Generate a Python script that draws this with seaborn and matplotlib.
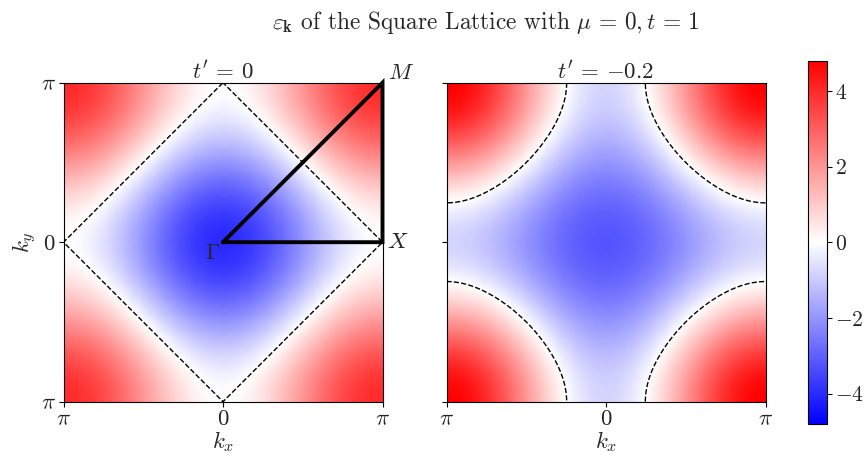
import numpy as np
import pandas as pd
import matplotlib
matplotlib.use("Agg")
import matplotlib.pyplot as plt
import seaborn as sns

sns.set_style("ticks")
plt.rcParams.update({
    "font.family": "serif",
    "font.serif": ["cmr10"],
    "mathtext.fontset": "cm",
    "axes.formatter.use_mathtext": True,
    "axes.unicode_minus": True,
    "xtick.direction": "out",
    "ytick.direction": "out",
})

# Tight-binding parameters
mu = 0.0
t = 1.0
t_primes = [0.0, -0.2]
panel_titles = [r"$t'\,=\,0$", r"$t'\,=\,{-}0.2$"]
tick_labels = [r"$\pi$", r"$0$", r"$\pi$"]
cbar_ticks = [-4, -2, 0, 2, 4]
color_limit = 4.8

# High-symmetry path Gamma -> X -> M -> Gamma
path_names = [r"$\Gamma$", r"$X$", r"$M$"]
path_kx = [0.0, np.pi, np.pi]
path_ky = [0.0, 0.0, np.pi]

n = 300
k = np.linspace(-np.pi, np.pi, n)
kx, ky = np.meshgrid(k, k[::-1])


def dispersion(tp):
    return (-2 * t * (np.cos(kx) + np.cos(ky))
            - 4 * tp * np.cos(kx) * np.cos(ky) - mu)


def to_col(v):
    return (np.asarray(v) + np.pi) / (2 * np.pi) * (n - 1) + 0.5


def to_row(v):
    return (np.pi - np.asarray(v)) / (2 * np.pi) * (n - 1) + 0.5


fig = plt.figure(figsize=(8.65, 4.62), dpi=100)
W, H = 865, 462
side = 319
axes = [
    fig.add_axes([63.5 / W, (H - 401.7) / H, side / W, side / H]),
    fig.add_axes([446.5 / W, (H - 401.7) / H, side / W, side / H]),
]
cax = fig.add_axes([808.3 / W, (H - 424) / H, 18.4 / W, 363.3 / H])

fs = 16.5
cbar = None
for i, (ax, tp, title) in enumerate(zip(axes, t_primes, panel_titles)):
    eps = dispersion(tp)
    df = pd.DataFrame(eps, index=k[::-1], columns=k)
    sns.heatmap(df, ax=ax, cmap="bwr", vmin=-color_limit, vmax=color_limit,
                cbar=(i == 0), cbar_ax=cax if i == 0 else None,
                cbar_kws={"ticks": cbar_ticks},
                xticklabels=False, yticklabels=False, rasterized=True)
    if i == 0:
        cbar = ax.collections[0].colorbar
    cols = to_col(k)
    rows = to_row(k[::-1])
    ax.contour(cols, rows, eps, levels=[0], colors="k",
               linestyles="--", linewidths=1.0)
    ax.set_xlim(to_col(-np.pi), to_col(np.pi))
    ax.set_ylim(to_row(-np.pi), to_row(np.pi))
    ax.set_aspect("equal")
    for s in ax.spines.values():
        s.set_visible(True)
        s.set_color("black")
        s.set_linewidth(0.8)
    ax.set_xticks(to_col([-np.pi, 0, np.pi]))
    ax.set_xticklabels(tick_labels, fontsize=fs)
    ax.set_yticks(to_row([np.pi, 0, -np.pi]))
    if i == 0:
        ax.set_yticklabels(tick_labels, fontsize=fs, rotation=0)
        ax.set_ylabel(r"$k_y$", fontsize=fs, labelpad=1)
    else:
        ax.set_yticklabels([])
    ax.tick_params(length=3.5, width=0.8, color="black", pad=2,
                   left=True, bottom=True)
    ax.set_xlabel(r"$k_x$", fontsize=fs, labelpad=0)
    ax.set_title(title, fontsize=fs, pad=3)

# Brillouin-zone path on the first panel
ax = axes[0]
px = to_col(path_kx + path_kx[:1])
py = to_row(path_ky + path_ky[:1])
ax.plot(px, py, color="black", lw=2.8, clip_on=False, solid_joinstyle="miter")
ax.annotate(path_names[0], (to_col(path_kx[0]), to_row(path_ky[0])),
            xytext=(-2, -1), textcoords="offset points",
            ha="right", va="top", fontsize=fs)
ax.annotate(path_names[1], (to_col(path_kx[1]), to_row(path_ky[1])),
            xytext=(3, 0), textcoords="offset points",
            ha="left", va="center", fontsize=fs)
ax.annotate(path_names[2], (to_col(path_kx[2]), to_row(path_ky[2])),
            xytext=(4, 0), textcoords="offset points",
            ha="left", va="bottom", fontsize=fs)

cax.tick_params(labelsize=15.5, length=3.5, width=0.8, color="black", pad=2.5)
cax.yaxis.set_ticks(cbar_ticks)
cbar.outline.set_visible(True)
cbar.outline.set_linewidth(0.8)
cbar.outline.set_edgecolor("black")

fig.text(486 / W, 1 - 22 / H,
         r"$\varepsilon_{\mathbf{k}}$ of the Square Lattice with $\mu\,=\,0,t\,=\,1$",
         ha="center", va="center", fontsize=16.8)

fig.savefig("out.png", dpi=100)
